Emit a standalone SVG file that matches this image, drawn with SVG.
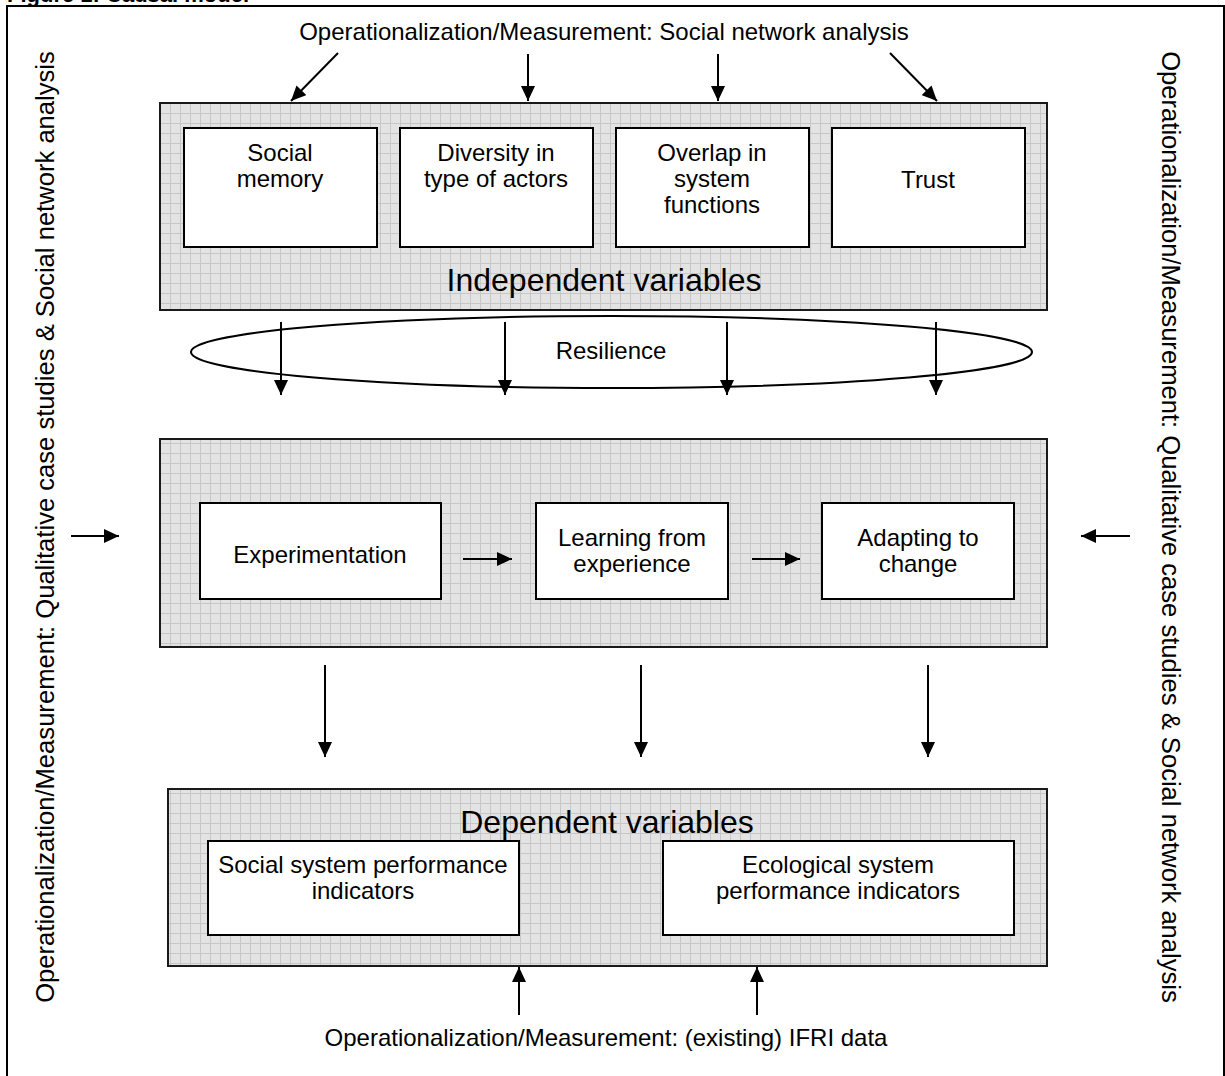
<svg xmlns="http://www.w3.org/2000/svg" width="1225" height="1076" viewBox="0 0 1225 1076">
<style>
text{font-family:"Liberation Sans",Arial,sans-serif;font-size:24px;fill:#000;text-anchor:middle}
.big{font-size:32px}
.side{font-size:25.6px}
.panel{fill:url(#grid);stroke:#1a1a1a;stroke-width:2}
.box{fill:#fff;stroke:#000;stroke-width:2}
.arr{stroke:#000;stroke-width:2;fill:none;marker-end:url(#ah)}
</style>
<defs>
<pattern id="grid" width="10" height="10" patternUnits="userSpaceOnUse" x="0" y="3">
<rect width="10" height="10" fill="#e3e3e3"/>
<path d="M0 0.5H10M0.5 0V10" stroke="#c7c7c7" stroke-width="1"/>
</pattern>
<marker id="ah" viewBox="0 0 15 14" refX="15" refY="7" markerWidth="15" markerHeight="14" markerUnits="userSpaceOnUse" orient="auto">
<path d="M0,0 L15,7 L0,14 z" fill="#000"/>
</marker>
</defs>
<rect width="1225" height="1076" fill="#fff"/>
<text x="7" y="2" style="text-anchor:start;font-weight:bold;font-size:22px">Figure 1: Causal model</text>
<path d="M7,1080 V6 H1224 V1080" fill="none" stroke="#000" stroke-width="2"/>

<g id="label-top"><text x="604" y="40">Operationalization/Measurement: Social network analysis</text></g>
<g id="label-bottom"><text x="606" y="1046">Operationalization/Measurement: (existing) IFRI data</text></g>
<g id="label-left"><text class="side" transform="translate(54,527) rotate(-90)">Operationalization/Measurement: Qualitative case studies &amp; Social network analysis</text></g>
<g id="label-right"><text class="side" transform="translate(1162,527) rotate(90)">Operationalization/Measurement: Qualitative case studies &amp; Social network analysis</text></g>

<g id="independent">
<rect class="panel" x="160" y="103" width="887" height="207"/>
<text class="big" x="604" y="291">Independent variables</text>
</g>
<g id="social-memory"><rect class="box" x="184" y="128" width="193" height="119"/><text x="280" y="161">Social</text><text x="280" y="187">memory</text></g>
<g id="diversity"><rect class="box" x="400" y="128" width="193" height="119"/><text x="496" y="161">Diversity in</text><text x="496" y="187">type of actors</text></g>
<g id="overlap"><rect class="box" x="616" y="128" width="193" height="119"/><text x="712" y="161">Overlap in</text><text x="712" y="187">system</text><text x="712" y="213">functions</text></g>
<g id="trust"><rect class="box" x="832" y="128" width="193" height="119"/><text x="928" y="188">Trust</text></g>

<g id="resilience"><ellipse cx="611.5" cy="352" rx="420.5" ry="36" fill="none" stroke="#000" stroke-width="2"/><text x="611" y="359">Resilience</text></g>

<g id="process"><rect class="panel" x="160" y="439" width="887" height="208"/></g>
<g id="experimentation"><rect class="box" x="200" y="503" width="241" height="96"/><text x="320" y="563">Experimentation</text></g>
<g id="learning"><rect class="box" x="536" y="503" width="192" height="96"/><text x="632" y="546">Learning from</text><text x="632" y="572">experience</text></g>
<g id="adapting"><rect class="box" x="822" y="503" width="192" height="96"/><text x="918" y="546">Adapting to</text><text x="918" y="572">change</text></g>

<g id="dependent">
<rect class="panel" x="168" y="789" width="879" height="177"/>
<text class="big" x="607" y="833">Dependent variables</text>
</g>
<g id="social-perf"><rect class="box" x="208" y="841" width="311" height="94"/><text x="363" y="873">Social system performance</text><text x="363" y="899">indicators</text></g>
<g id="eco-perf"><rect class="box" x="663" y="841" width="351" height="94"/><text x="838" y="873">Ecological system</text><text x="838" y="899">performance indicators</text></g>

<g id="connectors">
<line class="arr" x1="338" y1="53" x2="291" y2="101"/>
<line class="arr" x1="528" y1="54" x2="528" y2="101"/>
<line class="arr" x1="718" y1="54" x2="718" y2="101"/>
<line class="arr" x1="890" y1="53" x2="937" y2="101"/>
<line class="arr" x1="281" y1="322" x2="281" y2="395"/>
<line class="arr" x1="505" y1="322" x2="505" y2="395"/>
<line class="arr" x1="727" y1="322" x2="727" y2="395"/>
<line class="arr" x1="936" y1="322" x2="936" y2="395"/>
<line class="arr" x1="71" y1="536" x2="119" y2="536"/>
<line class="arr" x1="1130" y1="536" x2="1081" y2="536"/>
<line class="arr" x1="463" y1="559" x2="512" y2="559"/>
<line class="arr" x1="752" y1="559" x2="800" y2="559"/>
<line class="arr" x1="325" y1="665" x2="325" y2="757"/>
<line class="arr" x1="641" y1="665" x2="641" y2="757"/>
<line class="arr" x1="928" y1="665" x2="928" y2="757"/>
<line class="arr" x1="519" y1="1015" x2="519" y2="967"/>
<line class="arr" x1="757" y1="1015" x2="757" y2="967"/>
</g>
</svg>
